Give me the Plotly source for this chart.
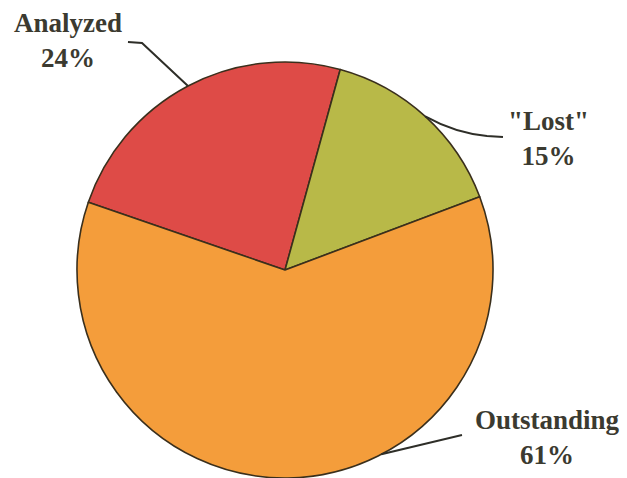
import math
import plotly.graph_objects as go

# Share of items by status
labels = ["Analyzed", '"Lost"', "Outstanding"]
values = [24, 15, 61]
colors = ["#DE4B47", "#B8B948", "#F49D3B"]

W, H = 627, 478
CX, CY, R = 285, 270, 208          # pie centre and radius in px
START = -71                         # angle (deg, clockwise from 12 o'clock) where the first slice begins


def px_to_paper(x, y):
    return x / W, 1 - y / H


def arc_point(angle_deg, radius=R):
    a = math.radians(angle_deg)
    return CX + radius * math.sin(a), CY - radius * math.cos(a)


# slice boundary angles derived from the values
total = sum(values)
bounds = [START]
for v in values:
    bounds.append(bounds[-1] + 360 * v / total)
mids = [(bounds[i] + bounds[i + 1]) / 2 for i in range(len(values))]

fig = go.Figure(go.Pie(
    labels=labels,
    values=values,
    sort=False,
    direction="clockwise",
    rotation=START,
    marker=dict(colors=colors, line=dict(color="#3a2f1c", width=1.6)),
    textinfo="none",
    hoverinfo="label+percent",
    showlegend=False,
    domain=dict(x=[(CX - R) / W, (CX + R) / W], y=[(H - CY - R) / H, (H - CY + R) / H]),
))

font = dict(family="Liberation Serif, Times New Roman, serif", size=27, color="#3b3a30")

# label text blocks (centre positions in px)
label_pos = [(68, 41), (548, 138), (547, 437)]
annotations = []
for lab, v, (x, y) in zip(labels, values, label_pos):
    px, py = px_to_paper(x, y)
    annotations.append(dict(
        x=px, y=py, xref="paper", yref="paper", xanchor="center", yanchor="middle",
        text=f"<b>{lab}<br>{v}%</b>", showarrow=False, font=font, align="center",
    ))


def path(points, curve=None):
    p = [px_to_paper(*pt) for pt in points]
    s = f"M {p[0][0]:.4f} {p[0][1]:.4f}"
    for i, q in enumerate(p[1:], start=1):
        if curve is not None and i == len(p) - 1:
            c = px_to_paper(*curve)
            s += f" Q {c[0]:.4f} {c[1]:.4f} {q[0]:.4f} {q[1]:.4f}"
        else:
            s += f" L {q[0]:.4f} {q[1]:.4f}"
    return s


line_style = dict(color="#2e2e28", width=2)
out_angle = bounds[2] + 0.378 * (bounds[3] - bounds[2])
shapes = [
    dict(type="path", xref="paper", yref="paper", line=line_style,
         path=path([(128, 42), (142, 43), arc_point(mids[0])])),
    dict(type="path", xref="paper", yref="paper", line=line_style,
         path=path([(503, 137), (487, 136), arc_point(mids[1])], curve=(455, 133))),
    dict(type="path", xref="paper", yref="paper", line=line_style,
         path=path([(462, 435), arc_point(out_angle)])),
]

fig.update_layout(
    width=W, height=H,
    margin=dict(l=0, r=0, t=0, b=0),
    paper_bgcolor="white",
    plot_bgcolor="white",
    annotations=annotations,
    shapes=shapes,
)

fig.write_html("out.html")
